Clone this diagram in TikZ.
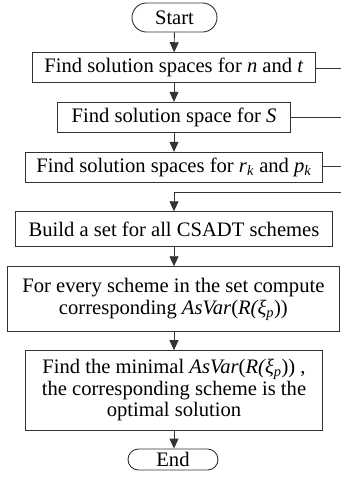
\documentclass[tikz,border=0pt]{standalone}
\usepackage{fontspec}
\setmainfont{Liberation Serif}
\usetikzlibrary{arrows.meta,shapes.misc}
\tikzset{
  box/.style={draw=black!80, line width=0.9pt, rectangle, inner sep=0pt, align=center,
    font=\fontsize{20.6}{21.6}\selectfont},
  term/.style={draw=black!80, line width=0.9pt, rounded rectangle, inner sep=0pt,
    font=\fontsize{20.6}{21.6}\selectfont},
  flow/.style={draw=black!80, line width=0.9pt, -{Triangle[length=10pt,width=9pt]}},
  link/.style={draw=black!80, line width=0.9pt}
}
\begin{document}
\begin{tikzpicture}[x=1pt,y=-1pt]
\useasboundingbox (0,0) rectangle (341,480);
\node[term, minimum width=85pt, minimum height=29pt] (start) at (174.5,17.5) {Start};
\node[box, minimum width=283.7pt, minimum height=30pt] (b1) at (174,67.7) {Find solution spaces for \textit{n} and \textit{t}};
\node[box, minimum width=233.7pt, minimum height=30pt] (b2) at (174,117.3) {Find solution space for \textit{S}};
\node[box, minimum width=297.7pt, minimum height=30pt] (b3) at (174,167.3) {Find solution spaces for \textit{r}\textsubscript{\textit{k}} and \textit{p}\textsubscript{\textit{k}}};
\node[box, minimum width=317.7pt, minimum height=35pt] (b4) at (174,229.2) {Build a set for all CSADT schemes};
\node[box, minimum width=332pt, minimum height=65pt] (b5) at (173.4,299.2) {For every scheme in the set compute\\corresponding \textit{AsVar}(\textit{R(ξ}\textsubscript{\textit{p}}))};
\node[box, minimum width=297.7pt, minimum height=79.3pt] (b6) at (174,390.3) {Find the minimal \textit{AsVar}(\textit{R(ξ}\textsubscript{\textit{p}})) ,\\the corresponding scheme is the\\optimal solution};
\node[term, minimum width=90pt, minimum height=21pt] (end) at (173,459.5) {End};
\coordinate (r1) at (341,68.3);
\coordinate (r2) at (341,117.7);
\coordinate (r3) at (341,166.7);
\coordinate (r4) at (341,192.7);
\coordinate (j) at (174,192.7);
\draw[flow] (start) -- (b1);
\draw[flow] (b1) -- (b2);
\draw[flow] (b2) -- (b3);
\draw[link] (b1.east |- r1) -- (r1);
\draw[link] (b2.east |- r2) -- (r2);
\draw[link] (b3.east |- r3) -- (r3);
\draw[flow] (r4) -- (j) -- (b4);
\draw[flow] (b4) -- (b5.north -| b4.south);
\draw[flow] (b5.south -| b6.north) -- (b6);
\draw[flow] (b6) -- (b6.south |- end.north);
\end{tikzpicture}
\end{document}
